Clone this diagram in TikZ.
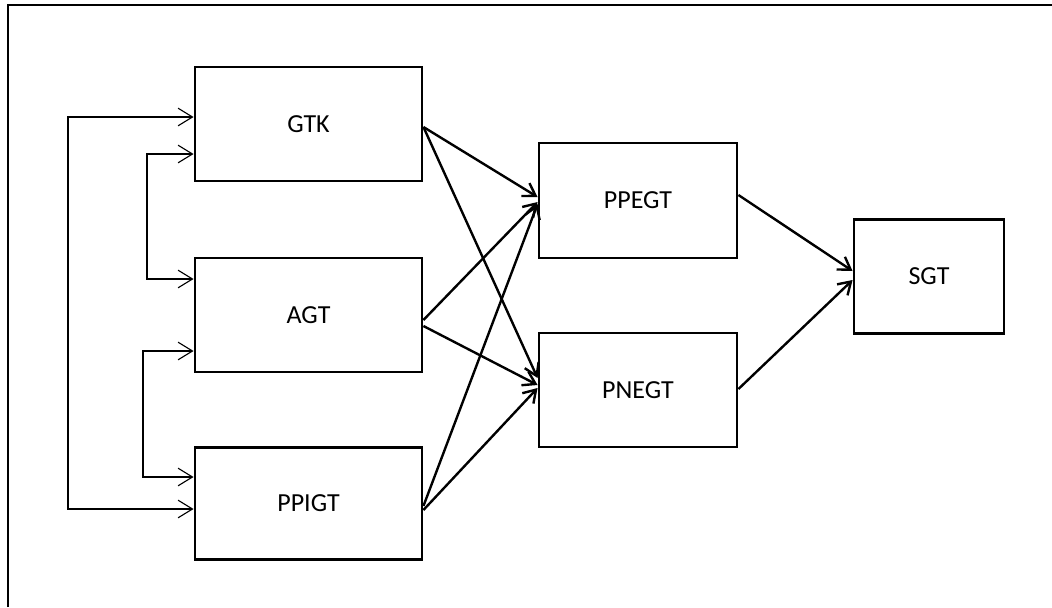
\documentclass[tikz,border=0pt]{standalone}
\usepackage{fontspec}
\setmainfont{Carlito}
\usetikzlibrary{arrows.meta}

\begin{document}
\begin{tikzpicture}[x=0.025cm, y=-0.025cm,
    box/.style={draw, line width=2pt, inner sep=0pt, font=\fontsize{18.5}{22}\selectfont},
    fb/.style={line width=0.8pt, {Straight Barb[length=3.6mm, width=4.4mm]}-{Straight Barb[length=3.6mm, width=4.4mm]}},
    link/.style={line width=1.7pt, -{Straight Barb[length=3mm, width=3.8mm]}}]
            \useasboundingbox (0,0) rectangle (1052,607);
            \draw[line width=2pt] (8,607) -- (8,5) -- (1052,5);

            \node[box, minimum width=5.675cm, minimum height=2.85cm] (gtk) at (308.5,124) {GTK};
            \node[box, minimum width=5.675cm, minimum height=2.85cm] (agt) at (308.5,315) {AGT};
            \node[box, minimum width=5.675cm, minimum height=2.8cm] (ppigt) at (308.5,503.5) {PPIGT};
            \node[box, minimum width=4.95cm, minimum height=2.875cm] (ppegt) at (638,200.5) {PPEGT};
            \node[box, minimum width=4.95cm, minimum height=2.85cm] (pnegt) at (638,390) {PNEGT};
            \node[box, minimum width=3.75cm, minimum height=2.83cm] (sgt) at (929,276.5) {SGT};

            \draw[fb] (gtk.west |- 0,117) -- (68,117) -- (68,509) -- (ppigt.west |- 0,509);
            \draw[fb] (gtk.west |- 0,154) -- (147,154) -- (147,279) -- (agt.west |- 0,279);
            \draw[fb] (agt.west |- 0,351) -- (143,351) -- (143,477) -- (ppigt.west |- 0,477);

            \draw[link] (gtk.east |- 0,127) -- (ppegt.west |- 0,197);
            \draw[link] (gtk.east |- 0,127) -- (pnegt.west |- 0,378);
            \draw[link] (agt.east |- 0,320) -- (ppegt.west |- 0,202);
            \draw[link] (agt.east |- 0,326) -- (pnegt.west |- 0,385);
            \draw[link] (ppigt.east |- 0,506) -- (ppegt.west |- 0,204);
            \draw[link] (ppigt.east |- 0,510) -- (pnegt.west |- 0,388);
            \draw[link] (ppegt.east |- 0,195) -- (sgt.west |- 0,271);
            \draw[link] (pnegt.east |- 0,389) -- (sgt.west |- 0,280);

        \end{tikzpicture}
\end{document}
